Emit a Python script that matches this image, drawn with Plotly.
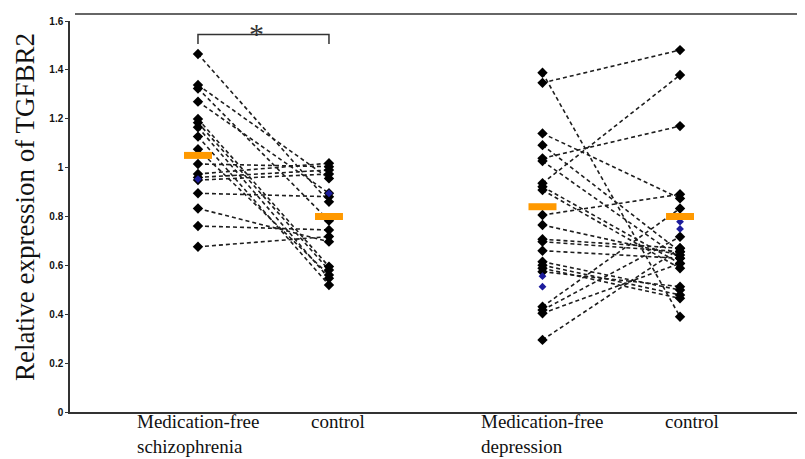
import plotly.graph_objects as go

# ---- data ----
group_labels = ["Medication-free<br>schizophrenia", "control", "Medication-free<br>depression", "control"]
group_x = [1.0, 2.0, 3.63, 4.68]

scz_patient = [1.465, 1.338, 1.324, 1.270, 1.199, 1.184, 1.165, 1.127, 1.075,
               1.015, 0.974, 0.960, 0.949, 0.895, 0.833, 0.761, 0.676]
scz_control = [0.860, 0.956, 0.783, 0.895, 0.595, 0.581, 0.547, 0.520, 0.561,
               1.004, 1.018, 0.990, 0.974, 0.881, 0.697, 0.745, 0.718]

dep_patient = [1.388, 1.347, 1.140, 1.092, 1.038, 1.027, 0.936, 0.922, 0.908,
               0.806, 0.765, 0.707, 0.697, 0.660, 0.615, 0.601, 0.588, 0.574,
               0.431, 0.417, 0.404, 0.295]
dep_control = [0.390, 1.481, 0.874, 0.656, 1.170, 0.629, 1.379, 0.608, 0.588,
               0.891, 0.642, 0.670, 0.656, 0.629, 0.499, 0.479, 0.465, 0.513,
               0.833, 0.717, 0.608, 0.670]

# small blue points
blue_scz_patient = [0.953]
blue_scz_control = [0.895]
blue_dep_patient = [0.556, 0.513]
blue_dep_control = [0.779, 0.749]

group_means = [1.05, 0.80, 0.84, 0.80]

y_ticks = [0, 0.2, 0.4, 0.6, 0.8, 1.0, 1.2, 1.4, 1.6]
y_tick_text = ["0", "0.2", "0.4", "0.6", "0.8", "1", "1.2", "1.4", "1.6"]

sig_bracket_top = 1.545
sig_bracket_leg = 1.506
sig_star_y = 1.565

# ---- build figure ----
fig = go.Figure()


def add_pairs(xa, xb, ya, yb):
    xs, ys = [], []
    for a, b in zip(ya, yb):
        xs += [xa, xb, None]
        ys += [a, b, None]
    fig.add_trace(go.Scatter(x=xs, y=ys, mode="lines",
                             line=dict(color="#1e1e1e", width=1.6, dash="4px,3px"),
                             hoverinfo="skip", showlegend=False))


add_pairs(group_x[0], group_x[1], scz_patient, scz_control)
add_pairs(group_x[2], group_x[3], dep_patient, dep_control)

for gx, vals in zip(group_x, [scz_patient, scz_control, dep_patient, dep_control]):
    fig.add_trace(go.Scatter(x=[gx] * len(vals), y=vals, mode="markers",
                             marker=dict(symbol="diamond", size=8, color="black"),
                             showlegend=False))

for gx, vals in zip(group_x, [blue_scz_patient, blue_scz_control, blue_dep_patient, blue_dep_control]):
    fig.add_trace(go.Scatter(x=[gx] * len(vals), y=vals, mode="markers",
                             marker=dict(symbol="diamond", size=6, color="#1c1c9c"),
                             showlegend=False))

fig.add_trace(go.Scatter(x=group_x, y=group_means, mode="markers",
                         marker=dict(symbol="line-ew", size=20,
                                     line=dict(color="#FF9900", width=7)),
                         showlegend=False))

# significance bracket
fig.add_trace(go.Scatter(x=[group_x[0], group_x[0], group_x[1], group_x[1]],
                         y=[sig_bracket_leg, sig_bracket_top, sig_bracket_top, sig_bracket_leg],
                         mode="lines", line=dict(color="#333", width=1.5),
                         hoverinfo="skip", showlegend=False))
fig.add_annotation(x=(group_x[0] + group_x[1]) / 2 - 0.05, y=sig_star_y, text="*",
                   showarrow=False, font=dict(family="Liberation Serif", size=30, color="#333"),
                   yanchor="middle", yshift=-4)

# x labels
label_shift = [0, 9, 0, 12]
for gx, lab, sh in zip(group_x, group_labels, label_shift):
    fig.add_annotation(x=gx, y=0, xref="x", yref="paper", text=lab, showarrow=False,
                       xanchor="center", yanchor="top", align="left", yshift=3, xshift=sh,
                       font=dict(family="Liberation Serif", size=19, color="#111"))

# y title
fig.add_annotation(x=-45 / 735, y=0.524, xref="paper", yref="paper",
                   text="Relative expression of TGFBR2", textangle=-90, showarrow=False,
                   xanchor="center", yanchor="middle",
                   font=dict(family="Liberation Serif", size=27, color="#111"))

# top frame line
fig.add_shape(type="line", xref="paper", yref="paper", x0=5 / 735, x1=1,
              y0=1.018, y1=1.018, line=dict(color="#333", width=1.5))

# page body has an 8px margin: compensate so the plot lands where the reference has it
fig.update_layout(
    width=805, height=459,
    margin=dict(l=62, r=8, t=13, b=55),
    plot_bgcolor="white", paper_bgcolor="white",
    xaxis=dict(range=[0.023, 5.634], showline=True, linecolor="#333", linewidth=1.5,
               showticklabels=False, showgrid=False, zeroline=False, ticks=""),
    yaxis=dict(range=[0, 1.6], showline=True, linecolor="#333", linewidth=1.5,
               tickvals=y_ticks, ticktext=y_tick_text, ticks="outside", ticklen=3,
               tickcolor="#333", showgrid=False, zeroline=False,
               tickfont=dict(family="Liberation Sans", size=10, color="#111", weight="bold")),
)

fig.write_html("out.html")
